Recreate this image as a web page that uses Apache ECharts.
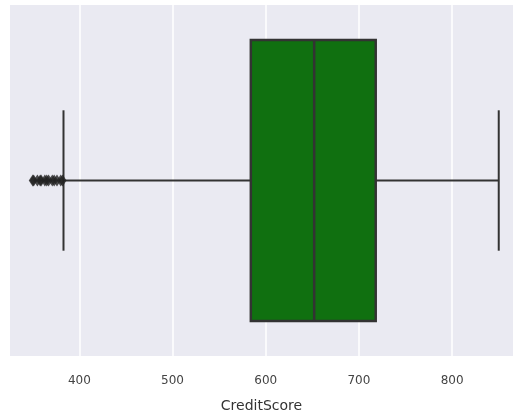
<!DOCTYPE html>
<html>
<head>
<meta charset="utf-8">
<script src="https://cdn.jsdelivr.net/npm/echarts@6/dist/echarts.min.js"></script>
<style>
html,body{margin:0;padding:0;background:#fff;}
#chart{width:513px;height:418px;}
</style>
</head>
<body>
<div id="chart"></div>
<script>
const categories = ['CreditScore'];
const whiskerLow = [383];
const q1 = [584];
const median = [652];
const q3 = [718];
const whiskerHigh = [850];
const outliers = [350, 351, 355, 358, 359, 363, 365, 367, 371, 373, 376, 380, 382];
const tickValues = [400, 500, 600, 700, 800];

const chart = echarts.init(document.getElementById('chart'));
const boxData = categories.map((c, i) => [i, whiskerLow[i], q1[i], median[i], q3[i], whiskerHigh[i]]);
const lineColor = '#333333';

chart.setOption({
  animation: false,
  backgroundColor: '#ffffff',
  grid: { left: 10, right: 0, top: 5, bottom: 60, show: true, backgroundColor: '#EAEAF2', borderWidth: 0 },
  xAxis: {
    type: 'value',
    min: 325.6,
    max: 865.3,
    name: 'CreditScore',
    nameLocation: 'middle',
    nameGap: 43,
    nameTextStyle: { fontFamily: 'DejaVu Sans', fontSize: 14, color: '#333' },
    axisLine: { show: false },
    axisTick: { show: false, customValues: tickValues },
    axisLabel: { customValues: tickValues, fontFamily: 'DejaVu Sans', fontSize: 12, color: '#444', margin: 19 },
    splitLine: { show: true, lineStyle: { color: '#ffffff', width: 1.5 } }
  },
  yAxis: {
    type: 'category',
    data: categories,
    show: false,
    boundaryGap: true
  },
  series: [
    {
      type: 'custom',
      data: boxData,
      z: 3,
      renderItem: function (params, api) {
        const cat = api.value(0);
        const band = api.size([0, 1])[1];
        const yc = api.coord([0, cat])[1];
        const hb = band * 0.4;
        const hc = band * 0.2;
        const xLo = api.coord([api.value(1), cat])[0];
        const xQ1 = api.coord([api.value(2), cat])[0];
        const xMed = api.coord([api.value(3), cat])[0];
        const xQ3 = api.coord([api.value(4), cat])[0];
        const xHi = api.coord([api.value(5), cat])[0];
        const ls = { stroke: lineColor, lineWidth: 2 };
        return {
          type: 'group',
          children: [
            { type: 'line', shape: { x1: xLo, y1: yc, x2: xQ1, y2: yc }, style: ls },
            { type: 'line', shape: { x1: xQ3, y1: yc, x2: xHi, y2: yc }, style: ls },
            { type: 'line', shape: { x1: xLo, y1: yc - hc, x2: xLo, y2: yc + hc }, style: ls },
            { type: 'line', shape: { x1: xHi, y1: yc - hc, x2: xHi, y2: yc + hc }, style: ls },
            { type: 'rect', shape: { x: xQ1, y: yc - hb, width: xQ3 - xQ1, height: 2 * hb }, style: { fill: '#107010', stroke: lineColor, lineWidth: 2.5 } },
            { type: 'line', shape: { x1: xMed, y1: yc - hb, x2: xMed, y2: yc + hb }, style: { stroke: lineColor, lineWidth: 2.5 } }
          ]
        };
      }
    },
    {
      type: 'scatter',
      z: 4,
      data: outliers.map(v => [v, 0]),
      symbol: 'diamond',
      symbolSize: [8, 12],
      itemStyle: { color: '#222222' }
    }
  ]
});
</script>
</body>
</html>
